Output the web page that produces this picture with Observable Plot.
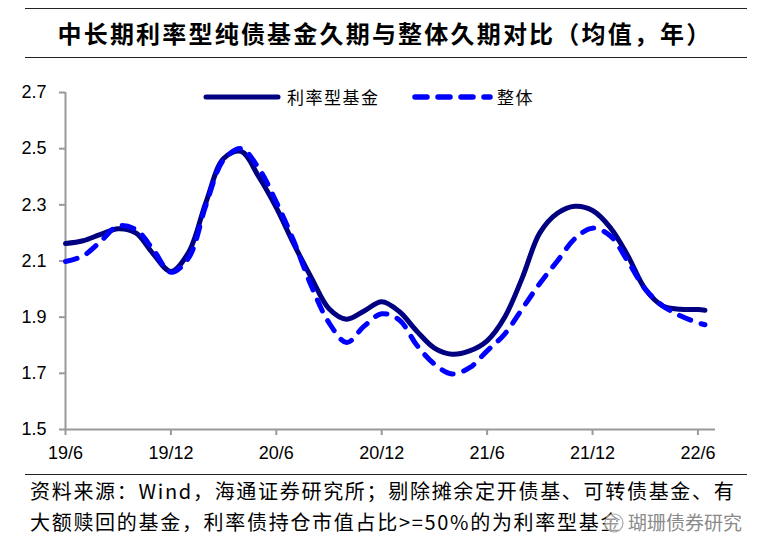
<!DOCTYPE html>
<html><head><meta charset="utf-8">
<script src="https://cdn.jsdelivr.net/npm/d3@7"></script>
<script src="https://cdn.jsdelivr.net/npm/@observablehq/plot@0.6"></script>
<style>
body{margin:0;background:#fff;}
#wrap{position:relative;width:770px;height:559px;overflow:hidden;background:#fff;font-family:"Noto Sans CJK SC",sans-serif;color:#000;}
.rule{position:absolute;left:25px;width:722px;height:0;border-top:1.5px solid #222;}
#title{position:absolute;left:0;width:770px;top:13px;text-align:center;font-size:24px;font-weight:bold;letter-spacing:2.2px;line-height:40px;white-space:nowrap;}
#chart{position:absolute;left:0;top:60px;}
.leg{position:absolute;top:85px;font-size:17px;line-height:24px;letter-spacing:1.5px;white-space:nowrap;}
.legsvg{position:absolute;top:90px;}
.foot{position:absolute;left:30px;font-size:20px;line-height:28px;white-space:nowrap;letter-spacing:1.7px;}
#wm{position:absolute;left:628px;top:508px;font-size:19px;color:#8a8a8a;white-space:nowrap;}
#wmicon{position:absolute;left:603px;top:511px;}
</style></head>
<body>
<div id="wrap">
  <div class="rule" style="top:8px"></div>
  <div id="title">中长期利率型纯债基金久期与整体久期对比（均值，年）</div>
  <div class="rule" style="top:57px"></div>
  <div id="chart"></div>
  <svg class="legsvg" style="left:200px" width="84" height="14"><line x1="6" y1="7" x2="78" y2="7" stroke="#000080" stroke-width="5" stroke-linecap="round"/></svg>
  <div class="leg" style="left:287px">利率型基金</div>
  <svg class="legsvg" style="left:410px" width="84" height="14"><line x1="5" y1="7" x2="80" y2="7" stroke="#0000ff" stroke-width="5.5" stroke-linecap="round" stroke-dasharray="12,11"/></svg>
  <div class="leg" style="left:497px">整体</div>
  <div class="rule" style="top:474px"></div>
  <div class="foot" style="top:477px">资料来源：Wind，海通证券研究所；剔除摊余定开债基、可转债基金、有</div>
  <div class="foot" style="top:508px">大额赎回的基金，利率债持仓市值占比&gt;=50%的为利率型基金</div>
  <svg id="wmicon" width="22" height="24"><circle cx="11" cy="12" r="9" fill="rgba(255,255,255,0.6)" stroke="#aaa" stroke-width="1.2"/><circle cx="8" cy="10" r="1.2" fill="#aaa"/><circle cx="14" cy="10" r="1.2" fill="#aaa"/></svg>
  <div id="wm">瑚珊债券研究</div>
</div>
<script>
// month index from 2019-06
const monthIdx = [0,1,2,3,4,5,6,7,8,9,10,11,12,13,14,15,16,17,18,19,20,21,22,23,24,25,26,27,28,29,30,31,32,33,34,35,36,36.4];
const rateFund = [2.162,2.172,2.195,2.215,2.200,2.125,2.063,2.13,2.31,2.465,2.49,2.40,2.29,2.16,2.04,1.93,1.893,1.922,1.955,1.92,1.85,1.79,1.768,1.78,1.816,1.90,2.04,2.20,2.27,2.295,2.28,2.22,2.12,2.00,1.94,1.928,1.927,1.925];
const overall  = [2.098,2.118,2.17,2.225,2.212,2.14,2.06,2.11,2.30,2.46,2.50,2.43,2.31,2.17,2.01,1.88,1.81,1.868,1.912,1.89,1.80,1.733,1.698,1.72,1.78,1.84,1.93,2.02,2.10,2.18,2.217,2.19,2.10,2.00,1.94,1.905,1.88,1.873];
const tickMonths = [0,6,12,18,24,30,36];
const tickLabels = ["19/6","19/12","20/6","20/12","21/6","21/12","22/6"];
const yTicks = [1.5,1.7,1.9,2.1,2.3,2.5,2.7];

const rows1 = monthIdx.map((m,i)=>({m, v: rateFund[i]}));
const rows2 = monthIdx.map((m,i)=>({m, v: overall[i]}));

const chart = Plot.plot({
  width: 770,
  height: 410,
  marginLeft: 65,
  marginRight: 55,
  marginTop: 32,
  marginBottom: 41,
  style: {fontFamily: "'Liberation Sans', Arial, sans-serif", fontSize: "18px", background: "transparent", overflow: "visible"},
  x: {domain: [0, 37]},
  y: {domain: [1.5, 2.7]},
  marks: [
    Plot.axisY({ticks: yTicks, tickSize: 6, tickPadding: 13, stroke: "#999", strokeWidth: 2, fill: "#000", fontSize: 18, label: null, tickFormat: d3.format(".1f")}),
    Plot.axisX({ticks: tickMonths, tickSize: 6, tickPadding: 11, stroke: "#999", strokeWidth: 2, fill: "#000", fontSize: 18, label: null, tickFormat: d => tickLabels[tickMonths.indexOf(d)]}),
    Plot.ruleY([1.5], {stroke: "#999", strokeWidth: 2}),
    Plot.ruleX([0], {stroke: "#999", strokeWidth: 2}),
    Plot.line(rows1, {x: "m", y: "v", stroke: "#000080", strokeWidth: 5, curve: "catmull-rom", strokeLinecap: "round"}),
    Plot.line(rows2, {x: "m", y: "v", stroke: "#0000ff", strokeWidth: 5, curve: "catmull-rom", strokeDasharray: "12,11", strokeLinecap: "round"})
  ]
});
document.getElementById("chart").appendChild(chart);
</script>
</body></html>
